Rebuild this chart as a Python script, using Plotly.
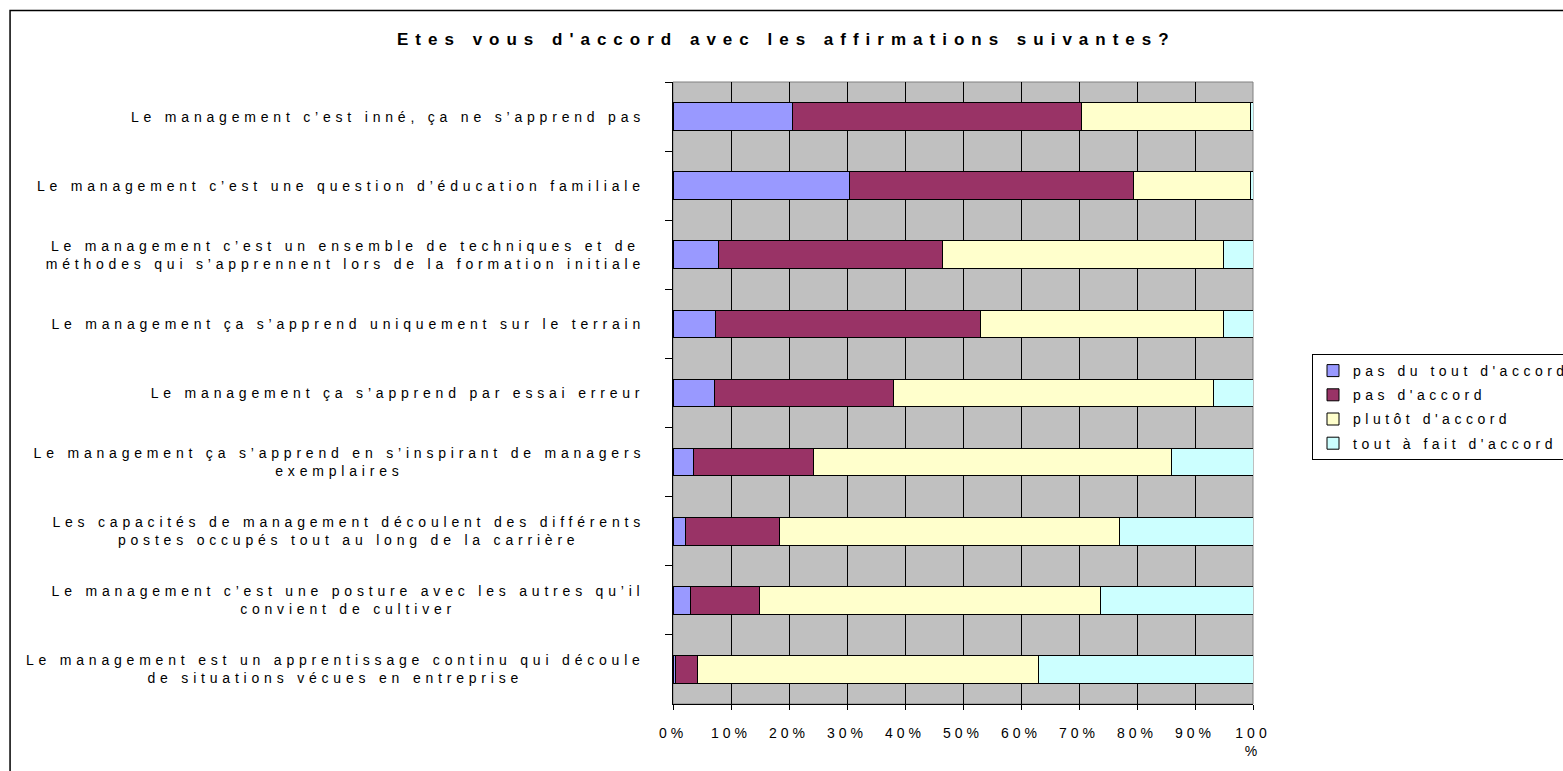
import plotly.graph_objects as go

# Libellés des affirmations (de haut en bas)
questions = [
    "Le management c’est inné, ça ne s’apprend pas",
    "Le management c’est une question d’éducation familiale",
    "Le management c’est un ensemble de techniques et de<br>méthodes qui s’apprennent lors de la formation initiale",
    "Le management ça s’apprend uniquement sur le terrain",
    "Le management ça s’apprend par essai erreur",
    "Le management ça s’apprend en s’inspirant de managers<br>exemplaires",
    "Les capacités de management découlent des différents<br>postes occupés tout au long de la carrière",
    "Le management c’est une posture avec les autres qu’il<br>convient de cultiver",
    "Le management est un apprentissage continu qui découle<br>de situations vécues en entreprise",
]

# Réponses en %
pas_du_tout = [20.6, 30.4, 7.9, 7.4, 7.1, 3.6, 2.2, 3.0, 0.5]
pas_accord = [49.8, 49.0, 38.5, 45.6, 31.0, 20.7, 16.1, 11.9, 3.8]
plutot = [29.1, 20.1, 48.5, 41.9, 55.1, 61.7, 58.6, 58.8, 58.8]
tout_a_fait = [0.5, 0.5, 5.1, 5.1, 6.8, 14.0, 23.1, 26.3, 36.9]

series_names = ["pas du tout d'accord", "pas d'accord", "plutôt d'accord", "tout à fait d'accord"]
series_colors = ["#9999FF", "#993366", "#FFFFCC", "#CCFFFF"]

x_tickvals = [0, 10, 20, 30, 40, 50, 60, 70, 80, 90, 100]
x_ticktext = ["0%", "10%", "20%", "30%", "40%", "50%", "60%", "70%", "80%", "90%", "100<br>%"]

FONT = "Arial, Liberation Sans, sans-serif"

fig = go.Figure()
for name, vals, col in zip(series_names, [pas_du_tout, pas_accord, plutot, tout_a_fait], series_colors):
    fig.add_trace(go.Bar(
        x=vals,
        y=questions,
        orientation="h",
        name=name,
        legendgroup=name,
        marker=dict(color=col, line=dict(color="black", width=1)),
        hoverinfo="x+name",
    ))

# libellés centrés sur plusieurs lignes, à gauche du graphique
annotations = [
    dict(text=q, xref="paper", yref="y", x=-0.045, y=q, xanchor="right",
         align="center", showarrow=False, font=dict(size=14, color="black", family=FONT))
    for q in questions
]

fig.update_layout(
    width=1563,
    height=771,
    barmode="stack",
    bargap=0.6,
    plot_bgcolor="#C0C0C0",
    paper_bgcolor="white",
    font=dict(family=FONT, size=14, color="black"),
    margin=dict(l=673, r=310, t=82, b=45),
    title=dict(
        text="<b>Etes vous d'accord avec les affirmations suivantes?</b>",
        x=397 / 1563, xanchor="left", xref="container",
        y=1 - 39 / 771, yanchor="middle", yref="container",
        font=dict(size=17, family=FONT, color="black"),
    ),
    legend=dict(
        x=1312 / 1563, xanchor="left", xref="container",
        y=1 - 354 / 771, yanchor="top", yref="container",
        bordercolor="black", borderwidth=1, bgcolor="white",
        traceorder="grouped", tracegroupgap=3,
        font=dict(size=14, family=FONT),
    ),
    annotations=annotations,
    shapes=[
        # cadre de la zone de graphique
        dict(type="rect", xref="paper", yref="paper", x0=-1.143, x1=1.7, y0=-0.3, y1=1.115,
             line=dict(color="black", width=1.5), layer="below"),
        # bord gris de la zone de traçage
        dict(type="rect", xref="paper", yref="paper", x0=0, x1=1, y0=0, y1=1,
             line=dict(color="#808080", width=1), layer="below"),
    ],
)

fig.update_xaxes(
    range=[0, 100],
    tickvals=x_tickvals,
    ticktext=x_ticktext,
    showgrid=True, gridcolor="black", gridwidth=1,
    showline=True, linecolor="black", linewidth=1,
    ticks="outside", ticklen=5, tickcolor="black",
    ticklabelstandoff=11,
    zeroline=False,
)
fig.update_yaxes(
    autorange="reversed",
    showticklabels=False,
    showgrid=False,
    showline=True, linecolor="black", linewidth=1,
    ticks="outside", ticklen=7, tickcolor="black",
    tickson="boundaries",
)

# espacement des lettres comme dans l'export Excel + page sans marge
spacing_js = """
document.body.style.margin = '0';
var gd = document.getElementById('{plot_id}');
function sp(sel, v) { gd.querySelectorAll(sel).forEach(function(t){ t.style.letterSpacing = v + 'px'; }); }
sp('.gtitle', 7);
sp('.xtick text', 4);
sp('.legendtext', 4.5);
gd.querySelectorAll('.annotation-text').forEach(function(t){
    var w0 = t.getBBox().width;
    t.style.letterSpacing = '4.8px';
    var w1 = t.getBBox().width;
    t.setAttribute('transform', 'translate(' + (-(w1 - w0) / 2) + ',0)');
});
// la légende déborde à droite comme dans l'original
var bg = gd.querySelector('.legend rect.bg');
if (bg) { bg.setAttribute('width', 400); }
document.querySelectorAll('clipPath[id^="legend"] rect').forEach(function(r){ r.setAttribute('width', 400); });
"""

fig.write_html("out.html", post_script=spacing_js, config={"displayModeBar": False})
